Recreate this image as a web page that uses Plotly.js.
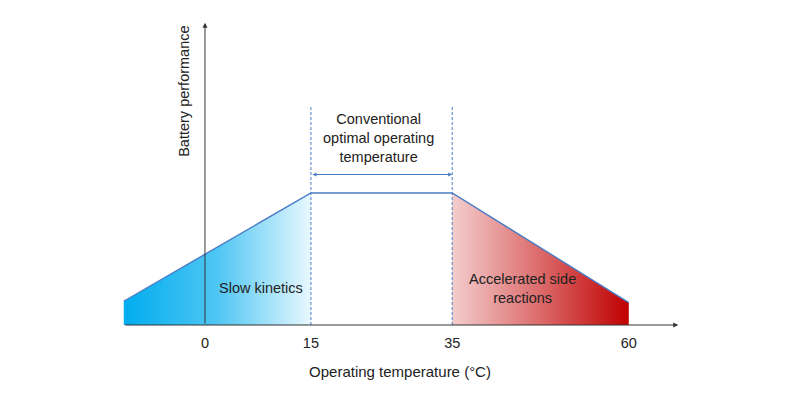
<!DOCTYPE html>
<html>
<head>
<meta charset="utf-8">
<script src="https://cdn.plot.ly/plotly-3.0.1.min.js"></script>
<style>
  html, body { margin: 0; padding: 0; background: #fff; }
  #chart { width: 800px; height: 400px; }
</style>
</head>
<body>
<div id="chart"></div>
<script>
// schematic curve: temperature (°C) vs relative battery performance
var tempPts = [-11.5, 15, 35, 60];
var perfPts = [0.18, 1.0, 1.0, 0.17];
var tickTemps = [0, 15, 35, 60];
var optimalRange = [15, 35];
var guideTop = 1.65;     // top of the dashed guide lines
var arrowLevel = 1.14;   // height of the double arrow
var axisEnds = { xMin: -11.5, xMax: 67, yMax: 2.29 };

var blue = '#4a7cc4';
var ink = '#222';
var fontFam = 'Liberation Sans, Arial, sans-serif';

// left part: slow kinetics (blue gradient)
var leftFill = {
  x: tempPts.slice(0, 2),
  y: perfPts.slice(0, 2),
  mode: 'lines',
  fill: 'tozeroy',
  line: { width: 0 },
  fillgradient: {
    type: 'horizontal',
    colorscale: [[0, '#00adee'], [0.5, '#4fc6f3'], [1, '#e8f8fe']]
  },
  hoverinfo: 'skip'
};

// right part: accelerated side reactions (red gradient)
var rightFill = {
  x: tempPts.slice(2),
  y: perfPts.slice(2),
  mode: 'lines',
  fill: 'tozeroy',
  line: { width: 0 },
  fillgradient: {
    type: 'horizontal',
    colorscale: [[0, '#f4cdcd'], [0.5, '#dc6a6a'], [1, '#c00000']]
  },
  hoverinfo: 'skip'
};

var guides = optimalRange.map(function (t) {
  return {
    x: [t, t],
    y: [0, guideTop],
    mode: 'lines',
    line: { color: blue, width: 1, dash: '3px,2px' },
    hoverinfo: 'skip'
  };
});

var edge = {
  x: tempPts,
  y: perfPts,
  mode: 'lines',
  line: { color: blue, width: 1.4 },
  hoverinfo: 'skip'
};

var data = [leftFill, rightFill].concat(guides).concat([edge]);

var txt = { family: fontFam, size: 14.5, color: ink };

var annotations = [
  // x axis arrow
  { x: axisEnds.xMax, y: 0, ax: axisEnds.xMin, ay: 0, axref: 'x', ayref: 'y',
    text: '', showarrow: true, arrowhead: 2, arrowsize: 1, arrowwidth: 1, arrowcolor: '#333' },
  // y axis arrow
  { x: 0, y: axisEnds.yMax, ax: 0, ay: 0, axref: 'x', ayref: 'y',
    text: '', showarrow: true, arrowhead: 2, arrowsize: 1, arrowwidth: 1, arrowcolor: '#333' },
  // optimal range double arrow
  { x: optimalRange[1], y: arrowLevel, ax: optimalRange[0], ay: arrowLevel, axref: 'x', ayref: 'y',
    text: '', showarrow: true, arrowside: 'end+start', arrowhead: 2, arrowsize: 0.8,
    arrowwidth: 1, arrowcolor: blue },
  { x: 24.5, y: 1.42, xref: 'x', yref: 'y',
    text: 'Conventional<br>optimal operating<br>temperature', showarrow: false,
    font: txt },
  { x: 7.9, y: 0.28, xref: 'x', yref: 'y', text: 'Slow kinetics', showarrow: false, font: txt },
  { x: 44.9, y: 0.28, xref: 'x', yref: 'y', text: 'Accelerated side<br>reactions',
    showarrow: false, font: txt },
  { x: -2.9, y: 1.77, xref: 'x', yref: 'y', text: 'Battery performance', textangle: -90,
    showarrow: false, font: txt }
];

var layout = {
  width: 800,
  height: 400,
  margin: { l: 0, r: 0, t: 10, b: 75 },
  paper_bgcolor: '#fff',
  plot_bgcolor: '#fff',
  showlegend: false,
  font: txt,
  xaxis: {
    range: [-29.02, 84.24],
    tickvals: tickTemps,
    ticktext: tickTemps.map(String),
    ticks: '',
    ticklabelstandoff: 7,
    showgrid: false,
    zeroline: false,
    showline: false,
    fixedrange: true,
    tickfont: txt,
    title: { text: 'Operating temperature (°C)', font: { family: fontFam, size: 15, color: ink }, standoff: 16 }
  },
  yaxis: {
    range: [0, 2.386],
    showticklabels: false,
    ticks: '',
    showgrid: false,
    zeroline: false,
    showline: false,
    fixedrange: true
  },
  annotations: annotations
};

Plotly.newPlot('chart', data, layout, { displayModeBar: false, staticPlot: true });
</script>
</body>
</html>
